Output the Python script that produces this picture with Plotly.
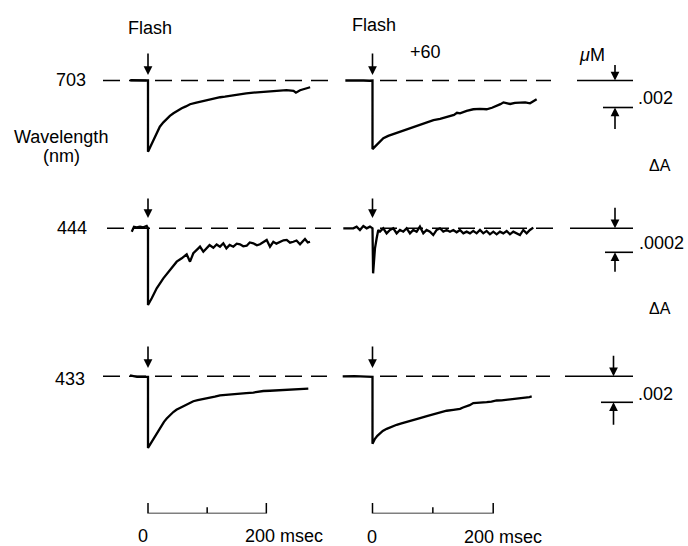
import plotly.graph_objects as go

# ---------------- data (time in ms after flash, absorbance change dA) ----------------
t_703_ctrl = [-30, -20, -10, -3, 0, 0, 3, 6, 9, 12, 16, 20, 26, 32, 37, 43, 50, 57, 64, 71, 80,
              88, 96, 105, 113, 122, 130, 139, 147, 156, 166, 178, 189, 201, 212, 223, 234, 246,
              250, 257, 266, 274]
dA_703_ctrl = [0.00002, 0.00003, 0.00002, 0.0, 0.0, -0.00528, -0.00500, -0.00478, -0.00445,
               -0.00416, -0.00378, -0.00342, -0.00310, -0.00280, -0.00262, -0.00243, -0.00222,
               -0.00206, -0.00192, -0.00176, -0.00166, -0.00157, -0.00150, -0.00139, -0.00133,
               -0.00124, -0.00120, -0.00113, -0.00108, -0.00102, -0.00096, -0.00090, -0.00086,
               -0.00080, -0.00079, -0.00076, -0.00072, -0.00076, -0.00090, -0.00072, -0.00062,
               -0.00050]

t_703_plus60 = [-45, -30, -15, -5, 0, 0, 3, 7, 12, 18, 26, 35, 45, 57, 68, 79, 90, 101, 112, 123,
                135, 140, 145, 156, 167, 178, 189, 198, 206, 212, 217, 228, 236, 244, 253, 261, 272]
dA_703_plus60 = [0.0, 0.00002, 0.0, -0.00002, 0.0, -0.00508, -0.00495, -0.00478, -0.00452,
                 -0.00428, -0.00410, -0.00396, -0.00382, -0.00367, -0.00350, -0.00330, -0.00312,
                 -0.00293, -0.00285, -0.00273, -0.00255, -0.00239, -0.00243, -0.00225, -0.00213,
                 -0.00210, -0.00213, -0.00202, -0.00189, -0.00175, -0.00162, -0.00174, -0.00166,
                 -0.00165, -0.00162, -0.00169, -0.00139]

t_444_ctrl = [-27.5, -23.7, -19.1, -13.5, -7.9, -2.2, 0, 0, 6.3, 14.7, 25.9, 37.2, 42.8, 48.5,
              57, 65.4, 71, 76.6, 85, 87.9, 93.5, 99.2, 104, 110.4, 116, 121.7, 127.3, 132.5,
              138, 144.2, 150, 155.5, 161, 166.8, 172, 178, 184, 189.3, 195, 200.6, 206.2,
              211.8, 217, 223.1, 229, 234.4, 240, 245.6, 251, 256.9, 261, 265.3, 270, 273.8]
dA_444_ctrl = [-0.000028, 0.000013, 0.000008, 0.000013, 0.000008, 0.000019, 0.0, -0.000639,
               -0.000583, -0.000500, -0.000417, -0.000347, -0.000320, -0.000278, -0.000250,
               -0.000217, -0.000278, -0.000208, -0.000167, -0.000153, -0.000195, -0.000167,
               -0.000140, -0.000162, -0.000135, -0.000153, -0.000125, -0.000167, -0.000138,
               -0.000153, -0.000128, -0.000133, -0.000150, -0.000145, -0.000118, -0.000125,
               -0.000142, -0.000133, -0.000115, -0.000097, -0.000153, -0.000112, -0.000128,
               -0.000117, -0.000100, -0.000097, -0.000120, -0.000112, -0.000102, -0.000133,
               -0.000110, -0.000089, -0.000118, -0.000112]

t_444_plus60 = [-48.4, -31.8, -26.3, -20.8, -15.2, -9.7, -4.2, 0, 1, 4.1, 6.9, 9.6, 12.4, 17.9,
                23.4, 29, 34.5, 40, 45.5, 51, 56.6, 62.1, 67.6, 73.1, 78.6, 84.2, 89.7, 95.2,
                100.7, 106.3, 111.8, 117.3, 122.8, 128.4, 133.9, 139.4, 144.9, 150.5, 156,
                161.5, 167, 172.5, 178.1, 183.6, 189.1, 194.6, 200.2, 205.7, 211.2, 216.7,
                222.3, 227.8, 233.3, 238.8, 244.3, 249.9, 255.4, 260.9, 266.4]
dA_444_plus60 = [0.0, 0.0, 0.000014, -0.000014, 0.000019, 0.0, 0.000014, 0.0, -0.000375,
                 -0.000167, -0.000083, -0.000014, -0.000028, 0.0, -0.000042, -0.000014, 0.0,
                 -0.000042, -0.000014, -0.000028, 0.0, -0.000042, -0.000014, -0.000028,
                 0.000014, -0.000042, -0.000014, -0.000028, -0.000056, -0.000014, 0.0,
                 -0.000028, -0.000014, -0.000028, -0.000014, -0.000033, -0.000014, -0.000042,
                 -0.000028, -0.000042, -0.000022, -0.000042, -0.000014, -0.000042, -0.000022,
                 -0.000050, -0.000028, -0.000050, -0.000028, -0.000042, -0.000022, -0.000050,
                 -0.000028, -0.000042, -0.000056, -0.000014, -0.000042, -0.000014, 0.000006]

t_433_ctrl = [-30.4, -18.6, -5, 0, 0, 3, 6.3, 10, 14.7, 19, 23.2, 27, 31.6, 37, 42.8, 48, 54.1,
              60, 65.4, 71, 76.6, 84, 90.8, 98, 104.8, 113, 121.7, 130, 138.6, 147, 155.5, 166,
              178, 186, 194.9, 206, 217.5, 228, 240, 248, 256.9, 264, 270.9]
dA_433_ctrl = [0.00008, -0.00005, -0.00005, -0.00005, -0.00551, -0.00528, -0.00505, -0.00472,
               -0.00441, -0.00408, -0.00377, -0.00350, -0.00325, -0.00299, -0.00275, -0.00258,
               -0.00244, -0.00230, -0.00218, -0.00204, -0.00192, -0.00183, -0.00177, -0.00171,
               -0.00167, -0.00157, -0.00146, -0.00142, -0.00138, -0.00136, -0.00133, -0.00129,
               -0.00125, -0.00119, -0.00113, -0.00111, -0.00108, -0.00104, -0.00100, -0.00099,
               -0.00095, -0.00097, -0.00095]

t_433_plus60 = [-49.4, -30, -10, 0, 0, 2, 4.1, 8, 12.4, 17, 23.5, 31, 40.1, 48, 56.7, 67, 78.7,
                90, 100.7, 112, 122.9, 134, 145, 150, 156.1, 161, 167, 178, 189.2, 197, 205.8,
                214, 222.4, 230, 238.9, 247, 255.5, 260, 263.8]
dA_433_plus60 = [0.0, 0.00002, -0.00003, -0.00005, -0.00519, -0.00500, -0.00481, -0.00458,
                 -0.00437, -0.00420, -0.00404, -0.00388, -0.00373, -0.00362, -0.00352, -0.00337,
                 -0.00321, -0.00306, -0.00291, -0.00278, -0.00265, -0.00258, -0.00250, -0.00240,
                 -0.00232, -0.00222, -0.00206, -0.00204, -0.00198, -0.00194, -0.00186, -0.00185,
                 -0.00181, -0.00174, -0.00168, -0.00166, -0.00163, -0.00160, -0.00155]

wavelength_labels = ["703", "444", "433"]
scale_dA = [0.002, 0.0002, 0.002]
scale_dA_labels = [".002", ".0002", ".002"]
time_bar_ms = [0, 100, 200]
time_bar_labels = ["0", "200 msec"]

series = {
    (1, 1): (t_703_ctrl, dA_703_ctrl), (1, 2): (t_703_plus60, dA_703_plus60),
    (2, 1): (t_444_ctrl, dA_444_ctrl), (2, 2): (t_444_plus60, dA_444_plus60),
    (3, 1): (t_433_ctrl, dA_433_ctrl), (3, 2): (t_433_plus60, dA_433_plus60),
}

# ---------------- layout geometry (pixels) ----------------
W, H = 688, 546
# row: (top px, bottom px, baseline px, dA per px)
ROWS = {1: (40, 175, 80.5, scale_dA[0] / 27),
        2: (185, 330, 228.3, scale_dA[1] / 24),
        3: (335, 480, 376.3, scale_dA[2] / 26)}
# col: (left px, right px, flash px, ms per px)
COLS = {1: (95, 340, 148.0, 1.69), 2: (340, 688, 372.5, 1.657)}

FONT = "Liberation Sans, Arial, Helvetica, sans-serif"
fig = go.Figure()
layout = dict(width=W, height=H, margin=dict(l=0, r=0, t=0, b=0),
              paper_bgcolor="white", plot_bgcolor="rgba(0,0,0,0)", showlegend=False)
shapes, annotations = [], []


def ms(c, px):
    x0, x1, f, k = COLS[c]
    return (px - f) * k


def py(p):
    return 1 - p / H


for r in (1, 2, 3):
    top, bot, base, k = ROWS[r]
    for c in (1, 2):
        i = (r - 1) * 2 + c
        x0, x1, f, mpp = COLS[c]
        xn = "xaxis" if i == 1 else f"xaxis{i}"
        yn = "yaxis" if i == 1 else f"yaxis{i}"
        xr = "x" if i == 1 else f"x{i}"
        yr = "y" if i == 1 else f"y{i}"
        layout[xn] = dict(domain=[x0 / W, x1 / W], range=[(x0 - f) * mpp, (x1 - f) * mpp],
                          visible=False, anchor=yr, fixedrange=True)
        layout[yn] = dict(domain=[1 - bot / H, 1 - top / H], range=[-(bot - base) * k, (base - top) * k],
                          visible=False, anchor=xr, fixedrange=True)
        t, d = series[(r, c)]
        fig.add_trace(go.Scatter(x=t, y=d, mode="lines", xaxis=xr, yaxis=yr,
                                 line=dict(color="black", width=2.3), hoverinfo="skip"))
        # dashed baseline
        if c == 1:
            dx0, dx1 = {1: (103, 328), 2: (107, 331), 3: (103, 327)}[r]
        else:
            dx0, dx1 = {1: (380, 551), 2: (380, 558), 3: (380, 550)}[r]
        shapes.append(dict(type="line", xref=xr, yref=yr, x0=ms(c, dx0), x1=ms(c, dx1), y0=0, y1=0,
                           line=dict(color="black", width=1.6, dash="17px,9px")))
        # flash arrow
        tip, tail = {1: (75, 52), 2: (218, 197), 3: (368, 345)}[r]
        annotations.append(dict(x=0, xref=xr, y=py(tip), yref="paper", ax=0, ay=-(tip - tail),
                                text="", showarrow=True, arrowhead=2, arrowsize=1.1,
                                arrowwidth=1.6, arrowcolor="black"))
        if c == 2:
            # right-hand dA scale marker
            s = scale_dA[r - 1]
            lx0 = {1: 577, 2: 570, 3: 565}[r]
            lx0b = {1: 603, 2: 605, 3: 601}[r]
            ax_px = {1: 615, 2: 615, 3: 613.5}[r]
            shapes.append(dict(type="line", xref=xr, yref=yr, x0=ms(2, lx0), x1=ms(2, 633),
                               y0=0, y1=0, line=dict(color="black", width=1.6)))
            shapes.append(dict(type="line", xref=xr, yref=yr, x0=ms(2, lx0b), x1=ms(2, 633),
                               y0=-s, y1=-s, line=dict(color="black", width=1.6)))
            up_tail = {1: 17, 2: 22, 3: 22}[r]
            dn_tail = {1: 23, 2: 21, 3: 24}[r]
            annotations.append(dict(x=ms(2, ax_px), xref=xr, y=0, yref=yr, ax=0, ay=-up_tail,
                                    text="", showarrow=True, arrowhead=2, arrowsize=1.1,
                                    arrowwidth=1.6, arrowcolor="black"))
            annotations.append(dict(x=ms(2, ax_px), xref=xr, y=-s, yref=yr, ax=0, ay=dn_tail,
                                    text="", showarrow=True, arrowhead=2, arrowsize=1.1,
                                    arrowwidth=1.6, arrowcolor="black"))

# time scale bars (subplots 7 and 8)
for c, idx in ((1, 7), (2, 8)):
    x0, x1, f, mpp = COLS[c]
    layout[f"xaxis{idx}"] = dict(domain=[x0 / W, x1 / W], range=[(x0 - f) * mpp, (x1 - f) * mpp],
                                 visible=False, anchor=f"y{idx}", fixedrange=True)
    layout[f"yaxis{idx}"] = dict(domain=[1 - 513.5 / H, 1 - 503 / H], range=[0, 1],
                                 visible=False, anchor=f"x{idx}", fixedrange=True)
    a, b, e = time_bar_ms
    fig.add_trace(go.Scatter(x=[a, a, b, b, b, e, e], y=[1, 0, 0, 0.6, 0, 0, 1], mode="lines",
                             xaxis=f"x{idx}", yaxis=f"y{idx}", hoverinfo="skip",
                             line=dict(color="black", width=1.5)))


def txt(x, y, s, size=18, **kw):
    annotations.append(dict(x=x / W, y=py(y), xref="paper", yref="paper", text=s, showarrow=False,
                            xanchor="center", yanchor="middle",
                            font=dict(family=FONT, size=size, color="black"), **kw))


txt(149.5, 28, "Flash")
txt(374, 25, "Flash")
txt(425, 52.5, "+60")
txt(591.5, 55, "<i>μ</i>M")
txt(71, 80, wavelength_labels[0])
txt(61, 137, "Wavelength")
txt(61, 156, "(nm)")
txt(72, 227.5, wavelength_labels[1])
txt(70, 378.5, wavelength_labels[2])
txt(655.5, 97.5, scale_dA_labels[0])
txt(661, 243.5, scale_dA_labels[1])
txt(655, 393.5, scale_dA_labels[2])
txt(660, 165, "ΔA", size=16)
txt(660, 308.5, "ΔA", size=16)
txt(143, 536, time_bar_labels[0])
txt(284, 536, time_bar_labels[1])
txt(371.5, 537, time_bar_labels[0])
txt(503, 537, time_bar_labels[1])

layout["shapes"] = shapes
layout["annotations"] = annotations
fig.update_layout(**layout)
fig.write_html("out.html", config={"displayModeBar": False},
               post_script="document.body.style.margin='0';document.body.style.padding='0';"
                           "document.body.style.overflow='hidden';")
